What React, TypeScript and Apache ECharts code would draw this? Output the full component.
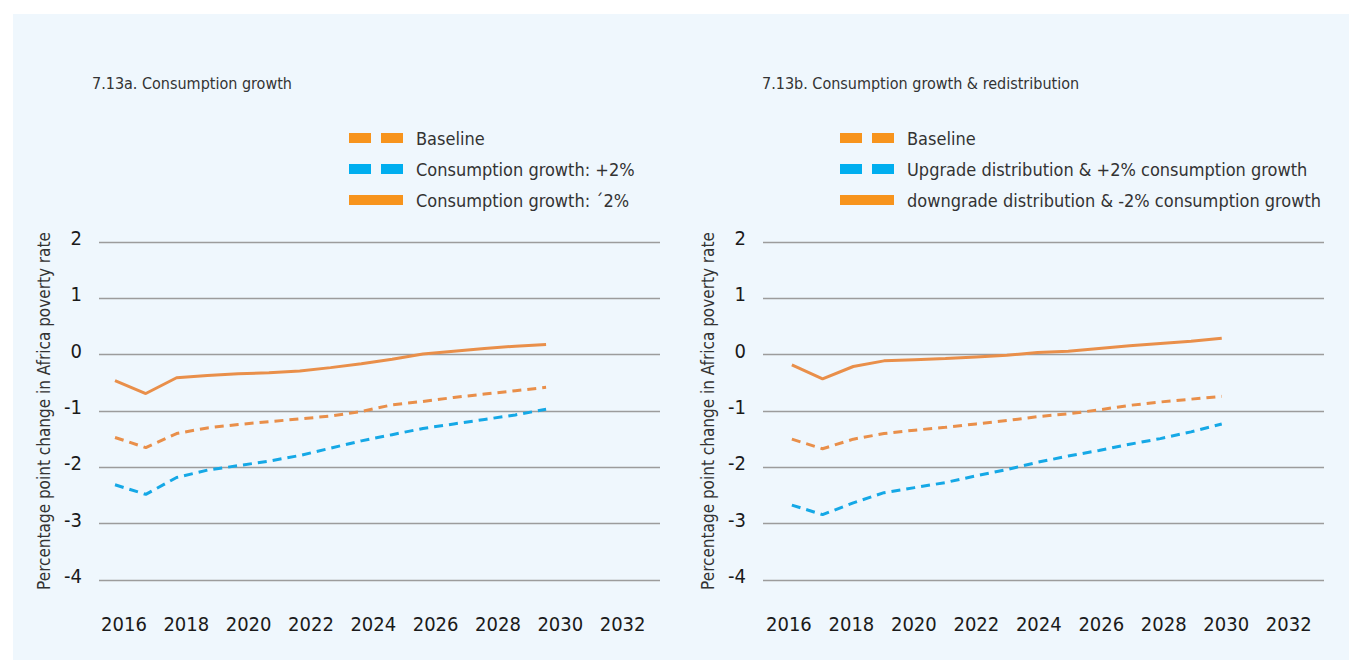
import React, { useEffect, useRef } from "react";
import * as echarts from "echarts";

const years = [2016, 2017, 2018, 2019, 2020, 2021, 2022, 2023, 2024, 2025, 2026, 2027, 2028, 2029, 2030];
const xTickLabels = [2016, 2018, 2020, 2022, 2024, 2026, 2028, 2030, 2032];
const yTicks = [-4, -3, -2, -1, 0, 1, 2];

// 7.13a
const aBaseline = [-1.47, -1.65, -1.4, -1.3, -1.24, -1.19, -1.14, -1.09, -1.01, -0.89, -0.83, -0.76, -0.7, -0.64, -0.58];
const aPlus2 = [-2.31, -2.48, -2.18, -2.05, -1.97, -1.89, -1.79, -1.66, -1.53, -1.42, -1.31, -1.23, -1.15, -1.07, -0.97];
const aMinus2 = [-0.46, -0.69, -0.41, -0.37, -0.34, -0.32, -0.29, -0.23, -0.16, -0.08, 0.01, 0.06, 0.11, 0.15, 0.18];

// 7.13b
const bBaseline = [-1.5, -1.67, -1.5, -1.4, -1.34, -1.29, -1.23, -1.17, -1.1, -1.05, -0.98, -0.9, -0.84, -0.79, -0.74];
const bUpgrade = [-2.67, -2.84, -2.63, -2.45, -2.36, -2.27, -2.15, -2.04, -1.91, -1.8, -1.7, -1.59, -1.49, -1.37, -1.23];
const bDowngrade = [-0.18, -0.43, -0.21, -0.11, -0.09, -0.07, -0.04, -0.01, 0.04, 0.06, 0.11, 0.16, 0.2, 0.24, 0.29];

const titleA = "7.13a. Consumption growth";
const titleB = "7.13b. Consumption growth & redistribution";
const namesA = ["Baseline", "Consumption growth: +2%", "Consumption growth: \u00b42%"];
const namesB = ["Baseline", "Upgrade distribution & +2% consumption growth", "downgrade distribution & -2% consumption growth"];
const yName = "Percentage point change in Africa poverty rate";

const FONT = "'Liberation Sans Narrow', 'DejaVu Sans Condensed', 'Roboto Condensed', Roboto, sans-serif";
const ORANGE_LINE = "#E98F4A";
const BLUE_LINE = "#15A8E6";
const ORANGE_ICON = "#F7941D";
const BLUE_ICON = "#00AEEF";
const DASH_ICON = "path://M0,0H22V10H0Z M32,0H54V10H32Z";

const toPairs = (vals: number[]) => years.map((y, i) => [y, vals[i]]);

export default function App() {
  const ref = useRef<HTMLDivElement>(null);

  useEffect(() => {
    if (!ref.current) return;
    const chart = echarts.init(ref.current, null, { renderer: "svg" });

    const grids = [
      { left: 99, right: 1349 - 660, top: 242, bottom: 80 },
      { left: 763, right: 1349 - 1324, top: 242, bottom: 80 },
    ];
    const dataRange = [
      [2015.48, 2033.7],
      [2015.06, 2033.33],
    ];
    const labelRange = [
      [2015.2, 2033.2],
      [2015.17, 2033.13],
    ];

    const xAxis: any[] = [];
    const yAxis: any[] = [];
    [0, 1].forEach((g) => {
      xAxis.push({
        type: "value",
        gridIndex: g,
        min: dataRange[g][0],
        max: dataRange[g][1],
        axisLine: { show: false },
        axisTick: { show: false },
        axisLabel: { show: false },
        splitLine: { show: false },
      });
      xAxis.push({
        type: "value",
        gridIndex: g,
        min: labelRange[g][0],
        max: labelRange[g][1],
        position: "bottom",
        axisLine: { show: false },
        axisTick: { show: false },
        splitLine: { show: false },
        axisLabel: {
          customValues: xTickLabels,
          margin: 34,
          fontSize: 20,
          color: "#1a1a1a",
          fontFamily: FONT,
          formatter: (v: number) => String(Math.round(v)),
        },
      });
      yAxis.push({
        type: "value",
        gridIndex: g,
        min: yTicks[0],
        max: yTicks[yTicks.length - 1],
        interval: 1,
        name: yName,
        nameLocation: "middle",
        nameRotate: 90,
        nameGap: 47,
        nameTextStyle: { fontSize: 17, color: "#333", fontFamily: FONT },
        axisLine: { show: false },
        axisTick: { show: false },
        axisLabel: {
          margin: 17,
          fontSize: 20,
          color: "#1a1a1a",
          fontFamily: FONT,
          verticalAlign: "bottom",
          lineHeight: 20,
          padding: [0, 0, -6, 0],
        },
        splitLine: { lineStyle: { color: "#9c9c9c", width: 1.3 } },
      });
    });

    const mkSeries = (name: string, vals: number[], g: number, color: string, dashed: boolean) => ({
      type: "line",
      name,
      xAxisIndex: g * 2,
      yAxisIndex: g,
      data: toPairs(vals),
      symbol: "none",
      lineStyle: { color, width: 3, type: dashed ? [9, 6] : "solid" },
      itemStyle: { color },
    });

    const legendCommon = {
      orient: "vertical",
      itemWidth: 54,
      itemHeight: 10,
      itemGap: 13,
      selectedMode: false,
      textStyle: { fontSize: 18, color: "#333", fontFamily: FONT, padding: [0, 0, 0, 8] },
    };
    const legendData = (names: string[]) => [
      { name: names[0], icon: DASH_ICON, itemStyle: { color: ORANGE_ICON, borderWidth: 0 } },
      { name: names[1], icon: DASH_ICON, itemStyle: { color: BLUE_ICON, borderWidth: 0 } },
      { name: names[2], icon: "rect", itemStyle: { color: ORANGE_ICON, borderWidth: 0 } },
    ];

    chart.setOption({
      animation: false,
      graphic: [
        {
          type: "rect",
          silent: true,
          z: -10,
          shape: { x: 13, y: 14, width: 1336, height: 646 },
          style: { fill: "#EFF7FD" },
        },
      ],
      title: [
        { text: titleA, left: 87, top: 70, textStyle: { fontSize: 16, fontWeight: "normal", color: "#333", fontFamily: FONT } },
        { text: titleB, left: 757, top: 70, textStyle: { fontSize: 16, fontWeight: "normal", color: "#333", fontFamily: FONT } },
      ],
      legend: [
        { ...legendCommon, left: 344, top: 124, data: legendData(namesA) },
        { ...legendCommon, left: 835, top: 124, data: legendData(namesB) },
      ],
      grid: grids,
      xAxis,
      yAxis,
      series: [
        mkSeries(namesA[0], aBaseline, 0, ORANGE_LINE, true),
        mkSeries(namesA[1], aPlus2, 0, BLUE_LINE, true),
        mkSeries(namesA[2], aMinus2, 0, ORANGE_LINE, false),
        mkSeries(namesB[0], bBaseline, 1, ORANGE_LINE, true),
        mkSeries(namesB[1], bUpgrade, 1, BLUE_LINE, true),
        mkSeries(namesB[2], bDowngrade, 1, ORANGE_LINE, false),
      ],
    });

    return () => chart.dispose();
  }, []);

  return (
    <div
      ref={ref}
      style={{ position: "absolute", left: 0, top: 0, width: 1349, height: 660, background: "#fff" }}
    />
  );
}
